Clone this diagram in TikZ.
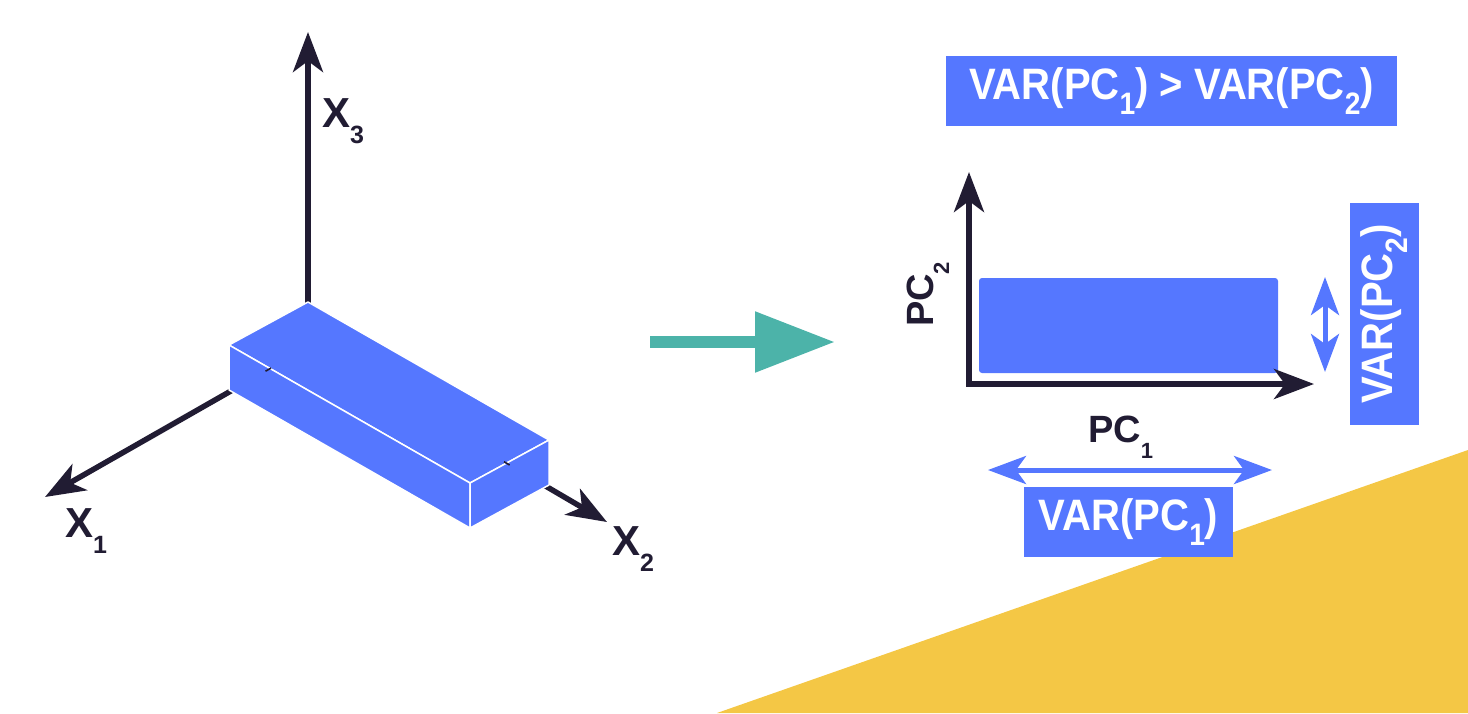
\documentclass[tikz,border=0pt]{standalone}
\usepackage{fontspec}
\setmainfont{Liberation Sans}
\newfontfamily\boxfont[FakeStretch=0.91]{Liberation Sans}
\usetikzlibrary{arrows.meta}

\definecolor{boxblue}{HTML}{5577FF}
\definecolor{ink}{HTML}{211C33}
\definecolor{arrowteal}{HTML}{4CB3A9}
\definecolor{sun}{HTML}{F4C745}

% lowered subscript: #1 drop, #2 size, #3 text
\newcommand{\dn}[3]{\raisebox{-#1}{\fontsize{#2}{#2}\selectfont #3}}

\tikzset{
  axisline/.style={draw=ink, line width=5.5pt, line join=miter,
    -{Stealth[length=40pt,width=30pt,inset=11pt]}},
  spread/.style={draw=boxblue, line width=5pt,
    {Stealth[length=38pt,width=28pt,inset=10pt]}-{Stealth[length=38pt,width=28pt,inset=10pt]}},
  face/.style={fill=boxblue, draw=white, line width=1.5pt, line join=round},
  axislabel/.style={inner sep=0pt, text=ink, font=\bfseries\fontsize{42}{42}\selectfont},
  pclabel/.style={inner sep=0pt, text=ink, font=\bfseries\fontsize{38}{38}\selectfont},
  varbox/.style={fill=boxblue, inner sep=0pt, text=white,
    font=\boxfont\bfseries\fontsize{44}{44}\selectfont},
}

\begin{document}
\begin{tikzpicture}[x=1pt,y=-1pt]
\useasboundingbox (0,0) rectangle (1468,713);

% yellow corner
\fill[sun] (717,713) -- (1468,450) -- (1468,713) -- cycle;

% ---------- 3D axes ----------
\coordinate (O) at (308,347);
\coordinate (x1tip) at (45,497);
\coordinate (x2tip) at (607,522);
\coordinate (x3tip) at (308,32);
\draw[axisline] (O) -- (x1tip);
\draw[axisline] (O) -- (x2tip);
\draw[axisline] (O) -- (x3tip);

% box corners
\coordinate (BT) at (308,302);
\coordinate (LT) at (229,345);
\coordinate (FT) at (470,483);
\coordinate (RT) at (549,440);
\coordinate (LB) at (229,390);
\coordinate (FB) at (470,528);
\coordinate (RB) at (549,485);
\filldraw[face] (BT) -- (LT) -- (FT) -- (RT) -- cycle;
\filldraw[face] (LT) -- (FT) -- (FB) -- (LB) -- cycle;
\filldraw[face] (FT) -- (RT) -- (RB) -- (FB) -- cycle;

% axes glimpsed through the box seams
\begin{scope}
  \clip (268,369) circle (3.5pt);
  \draw[ink, line width=1.6pt] (O) -- (x1tip);
\end{scope}
\begin{scope}
  \clip (507,463) circle (3.5pt);
  \draw[ink, line width=1.6pt] (O) -- (x2tip);
\end{scope}

\node[axislabel, anchor=base west] (x1lab) at (65,537) {X\dn{16pt}{25}{1}};
\node[axislabel, anchor=base west] (x2lab) at (612,555) {X\dn{16pt}{25}{2}};
\node[axislabel, anchor=base west] (x3lab) at (322,127) {X\dn{16pt}{25}{3}};

% ---------- transform arrow ----------
\coordinate (tstart) at (650,342);
\coordinate (tend) at (835,342);
\draw[arrowteal, line width=12pt, -{Triangle[length=80pt,width=58pt]}] (tstart) -- (tend);

% ---------- principal component plot ----------
\node[varbox, minimum width=451pt, minimum height=70pt] (cmp) at (1171.5,91)
  {VAR(PC\dn{15pt}{31}{1}) > VAR(PC\dn{15pt}{31}{2})};

\coordinate (po) at (969,384);
\coordinate (pc2tip) at (969,172);
\coordinate (pc1tip) at (1314,384);
\fill[boxblue, rounded corners=3pt] (979,278) rectangle (1278,373);
\draw[ink, line width=5.5pt, line join=miter,
  {Stealth[length=40pt,width=30pt,inset=11pt]}-{Stealth[length=40pt,width=30pt,inset=11pt]}]
  (pc2tip) |- (pc1tip);

\node[pclabel, anchor=base west] (pc1lab) at (1088,442) {PC\dn{16pt}{22}{1}};
\node[pclabel, anchor=base west, rotate=90] (pc2lab) at (933,327) {PC\dn{16pt}{22}{2}};

% spread along PC1
\coordinate (h1) at (988,470);
\coordinate (h2) at (1272,470);
\draw[spread] (h1) -- (h2);
\node[varbox, minimum width=209pt, minimum height=70pt] (var1) at (1128.5,522)
  {VAR(PC\dn{15pt}{31}{1})};

% spread along PC2
\coordinate (v1) at (1325,277);
\coordinate (v2) at (1325,372);
\draw[spread] (v1) -- (v2);
\node[varbox, minimum width=222pt, minimum height=69pt, rotate=90] (var2) at (1384.5,314)
  {VAR(PC\dn{15pt}{31}{2})};
\end{tikzpicture}
\end{document}
